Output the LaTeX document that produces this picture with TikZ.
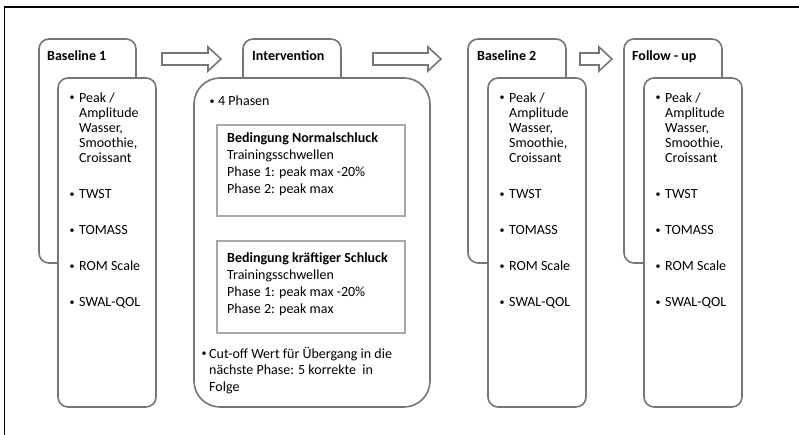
\documentclass[tikz,border=0pt]{standalone}
\usepackage{fontspec}
\setmainfont{Carlito}
\definecolor{boxgray}{RGB}{118,118,118}
\definecolor{subgray}{RGB}{168,168,168}
\newcommand\topstrut{\rule{0pt}{12pt}}

\begin{document}
\begin{tikzpicture}[x=1pt,y=-1pt,
  panel/.style={draw=boxgray, line width=1.6pt, fill=white, rounded corners=10pt,
                anchor=north west, inner sep=0pt, outer sep=0pt},
  bigpanel/.style={panel, rounded corners=26pt},
  condbox/.style={draw=subgray, line width=2.2pt, fill=white,
                  anchor=north west, inner sep=0pt, outer sep=0pt},
  blockarrow/.style={draw=boxgray, line width=1.6pt, fill=white, line join=miter},
  title/.style={font=\fontsize{14}{17}\selectfont\bfseries, anchor=base west, inner sep=0pt},
  listtext/.style={font=\fontsize{14}{15}\selectfont, anchor=north west, inner sep=0pt, align=left},
  bodytext/.style={font=\fontsize{14}{17}\selectfont, anchor=north west, inner sep=0pt, align=left},
  plain/.style={font=\fontsize{14}{17}\selectfont, anchor=base west, inner sep=0pt},
  bul/.style={font=\fontsize{10}{12}\selectfont, anchor=base, inner sep=0pt},
]
\useasboundingbox (0,0) rectangle (799,435);

% frame lines
\draw[black, line width=1.3pt] (4.5,435) -- (4.5,7) -- (799,7);

% Baseline 1
\node[panel, minimum width=97pt, minimum height=224pt] (b1back) at (39,39) {};
\node[panel, minimum width=98pt, minimum height=329pt] (b1box) at (58,78) {};

% Intervention
\node[panel, minimum width=98pt, minimum height=71pt] (ivtab) at (243,39) {};
\node[bigpanel, minimum width=236pt, minimum height=329pt] (ivbox) at (194,78) {};
\node[condbox, minimum width=188pt, minimum height=91pt] (cond1) at (217,125) {};
\node[condbox, minimum width=188pt, minimum height=92pt] (cond2) at (217,241) {};

% Baseline 2
\node[panel, minimum width=98pt, minimum height=224pt] (b2back) at (468,39) {};
\node[panel, minimum width=98pt, minimum height=329pt] (b2box) at (488,78) {};

% Follow-up
\node[panel, minimum width=98pt, minimum height=224pt] (fuback) at (624,39) {};
\node[panel, minimum width=98pt, minimum height=329pt] (fubox) at (644,78) {};

% block arrows between the phases
\draw[blockarrow] (162,53) -- (208,53) -- (208,47) -- (221,59) -- (208,71) -- (208,65) -- (162,65) -- cycle;
\draw[blockarrow] (373,53) -- (428,53) -- (428,47) -- (441,59) -- (428,71) -- (428,65) -- (373,65) -- cycle;
\draw[blockarrow] (580,53) -- (599,53) -- (599,47) -- (612,59) -- (599,71) -- (599,65) -- (580,65) -- cycle;

% titles
\node[title] (t1) at (47,61) {Baseline 1};
\node[title] (t2) at (252,61) {Intervention};
\node[title] (t3) at (477,61) {Baseline 2};
\node[title] (t4) at (632,61) {Follow - up};

% measurement lists
\foreach \p/\l in {b1/58, b2/488, fu/644} {
  \node[listtext] (\p-list) at (\l+21,90) {\topstrut Peak /\\Amplitude\\Wasser,\\Smoothie,\\Croissant\\[21pt]TWST\\[21pt]TOMASS\\[21pt]ROM Scale\\[21pt]SWAL-QOL};
  \foreach \y [count=\i] in {102,199,235,271,307}
    \node[bul] (\p-bul\i) at (\l+14,\y-1.5) {\textbullet};
}

% intervention content
\node[bul] (ivbul1) at (212,104.5) {\textbullet};
\node[plain] (phasen) at (218,106) {4 Phasen};
\node[bodytext] (cond1text) at (227,130) {\topstrut\textbf{Bedingung Normalschluck}\\Trainingsschwellen\\Phase 1: peak max -20\%\\Phase 2: peak max};
\node[bodytext] (cond2text) at (227,250) {\topstrut\textbf{Bedingung kräftiger Schluck}\\Trainingsschwellen\\Phase 1: peak max -20\%\\Phase 2: peak max};
\node[bul] (ivbul2) at (204,356.5) {\textbullet};
\node[bodytext, font=\fontsize{14}{16.5}\selectfont] (cutoff) at (209,346) {\topstrut Cut-off Wert für Übergang in die\\nächste Phase: 5 korrekte\ \ in\\Folge};
\end{tikzpicture}
\end{document}
